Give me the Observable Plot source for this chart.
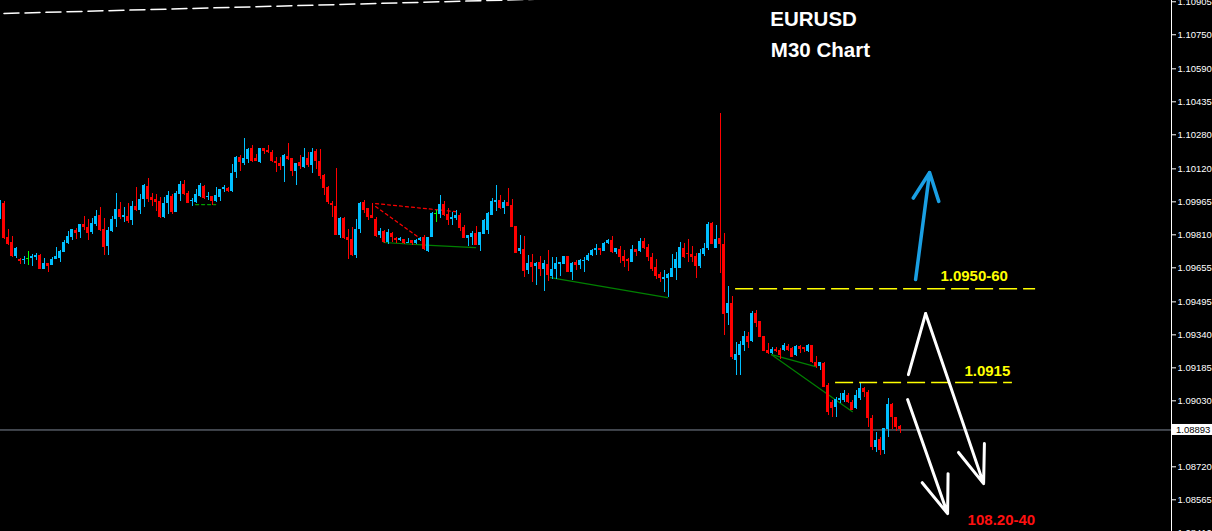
<!DOCTYPE html>
<html><head><meta charset="utf-8">
<script src="https://cdn.jsdelivr.net/npm/d3@7"></script>
<script src="https://cdn.jsdelivr.net/npm/@observablehq/plot@0.6"></script>
<style>html,body{margin:0;padding:0;background:#000;overflow:hidden}#chart svg{display:block}</style>
</head><body><div id="chart"></div>
<script>
const opens = [
1.09886,1.09957,1.09797,1.09774,1.09708,1.09694,1.09689,1.09698,1.09698,1.09703,
1.09713,1.09647,1.09675,1.09666,1.09694,1.09698,1.09727,1.09769,1.09797,1.09830,
1.09821,1.09858,1.09844,1.09821,1.09858,1.09901,1.09835,1.09755,1.09825,1.09882,
1.09929,1.09891,1.09896,1.09877,1.09943,1.09924,1.09976,1.10037,1.09985,1.09976,
1.09966,1.09891,1.09957,1.09990,1.09915,1.09999,1.10046,1.10004,1.09966,1.09962,
1.09990,1.10037,1.09985,1.09990,1.09966,1.09985,1.10023,1.10027,1.10013,1.10103,
1.10173,1.10145,1.10164,1.10215,1.10168,1.10150,1.10215,1.10206,1.10197,1.10154,
1.10145,1.10131,1.10178,1.10168,1.10107,1.10150,1.10126,1.10168,1.10136,1.10201,
1.10154,1.10089,1.10032,1.09957,1.09943,1.09807,1.09886,1.09797,1.09788,1.09713,
1.09835,1.09962,1.09933,1.09901,1.09882,1.09807,1.09825,1.09774,1.09816,1.09792,
1.09783,1.09788,1.09769,1.09783,1.09769,1.09783,1.09797,1.09731,1.09797,1.09910,
1.09905,1.09952,1.09905,1.09882,1.09886,1.09901,1.09844,1.09792,1.09797,1.09816,
1.09760,1.09811,1.09830,1.09901,1.09962,1.09971,1.09933,1.09962,1.09948,1.09849,
1.09731,1.09741,1.09642,1.09680,1.09661,1.09680,1.09647,1.09670,1.09614,1.09647,
1.09670,1.09670,1.09708,1.09633,1.09680,1.09666,1.09684,1.09689,1.09713,1.09736,
1.09745,1.09731,1.09769,1.09783,1.09727,1.09741,1.09708,1.09694,1.09680,1.09741,
1.09731,1.09778,1.09750,1.09703,1.09656,1.09623,1.09600,1.09604,1.09609,1.09651,
1.09651,1.09745,1.09722,1.09717,1.09708,1.09661,1.09717,1.09745,1.09863,1.09745,
1.09792,1.09764,1.09440,1.09487,1.09219,1.09243,1.09290,1.09332,1.09308,1.09440,
1.09402,1.09332,1.09266,1.09252,1.09271,1.09266,1.09266,1.09285,1.09275,1.09243,
1.09285,1.09280,1.09261,1.09290,1.09210,1.09191,1.09205,1.09102,1.09022,1.08998,
1.09031,1.09031,1.09055,1.09022,1.08993,1.09040,1.09087,1.09069,1.08946,1.08810,
1.08848,1.08796,1.08895,1.09012,1.08951,1.08909];
const highs = [
1.09971,1.09966,1.09835,1.09802,1.09750,1.09698,1.09708,1.09731,1.09717,1.09722,
1.09717,1.09698,1.09675,1.09703,1.09750,1.09736,1.09783,1.09825,1.09835,1.09839,
1.09858,1.09896,1.09882,1.09886,1.09924,1.09938,1.09886,1.09844,1.09896,1.10004,
1.09962,1.09938,1.09957,1.09966,1.10032,1.09999,1.10046,1.10074,1.10004,1.09999,
1.09985,1.09985,1.10013,1.09999,1.10013,1.10060,1.10065,1.10013,1.09980,1.10023,
1.10051,1.10042,1.10009,1.09990,1.10032,1.10023,1.10042,1.10032,1.10140,1.10178,
1.10183,1.10262,1.10215,1.10230,1.10187,1.10215,1.10215,1.10230,1.10206,1.10173,
1.10173,1.10187,1.10239,1.10168,1.10145,1.10183,1.10215,1.10197,1.10215,1.10211,
1.10211,1.10093,1.10037,1.09966,1.10121,1.09891,1.09891,1.09835,1.09844,1.09882,
1.09962,1.09971,1.09933,1.09957,1.09891,1.09839,1.09830,1.09835,1.09821,1.09797,
1.09797,1.09788,1.09792,1.09783,1.09788,1.09797,1.09807,1.09797,1.09915,1.09924,
1.09995,1.09966,1.09933,1.09915,1.09924,1.09910,1.09854,1.09807,1.09825,1.09849,
1.09821,1.09882,1.09915,1.09980,1.10042,1.09995,1.09971,1.10027,1.09976,1.09849,
1.09807,1.09802,1.09713,1.09717,1.09680,1.09708,1.09689,1.09736,1.09703,1.09703,
1.09680,1.09708,1.09708,1.09680,1.09689,1.09694,1.09703,1.09722,1.09741,1.09764,
1.09745,1.09774,1.09788,1.09802,1.09745,1.09755,1.09736,1.09698,1.09760,1.09741,
1.09792,1.09792,1.09764,1.09722,1.09694,1.09633,1.09642,1.09628,1.09717,1.09727,
1.09774,1.09769,1.09788,1.09755,1.09722,1.09741,1.09769,1.09868,1.09868,1.09854,
1.10380,1.09816,1.09567,1.09520,1.09304,1.09308,1.09355,1.09351,1.09449,1.09454,
1.09402,1.09332,1.09299,1.09280,1.09280,1.09275,1.09299,1.09294,1.09280,1.09290,
1.09290,1.09280,1.09294,1.09290,1.09238,1.09210,1.09210,1.09111,1.09031,1.09045,
1.09064,1.09078,1.09064,1.09031,1.09078,1.09116,1.09092,1.09078,1.08961,1.08881,
1.08857,1.08899,1.09040,1.09017,1.08951,1.08914];
const lows = [
1.09882,1.09788,1.09760,1.09703,1.09698,1.09670,1.09670,1.09666,1.09661,1.09689,
1.09647,1.09647,1.09633,1.09666,1.09694,1.09680,1.09727,1.09764,1.09783,1.09788,
1.09792,1.09830,1.09783,1.09811,1.09849,1.09825,1.09713,1.09713,1.09821,1.09844,
1.09882,1.09868,1.09863,1.09854,1.09919,1.09905,1.09938,1.09962,1.09943,1.09919,
1.09886,1.09886,1.09905,1.09905,1.09915,1.09966,1.09995,1.09957,1.09943,1.09957,
1.09985,1.09976,1.09971,1.09948,1.09962,1.09966,1.10009,1.10009,1.10009,1.10074,
1.10107,1.10136,1.10145,1.10150,1.10154,1.10145,1.10187,1.10192,1.10150,1.10103,
1.10112,1.10056,1.10159,1.10084,1.10042,1.10117,1.10121,1.10126,1.10098,1.10117,
1.10070,1.09995,1.09952,1.09891,1.09807,1.09792,1.09788,1.09694,1.09708,1.09698,
1.09816,1.09910,1.09877,1.09886,1.09797,1.09792,1.09769,1.09764,1.09774,1.09769,
1.09778,1.09764,1.09769,1.09760,1.09764,1.09778,1.09736,1.09727,1.09797,1.09868,
1.09886,1.09896,1.09854,1.09854,1.09877,1.09825,1.09792,1.09755,1.09760,1.09760,
1.09731,1.09811,1.09811,1.09901,1.09919,1.09929,1.09905,1.09943,1.09844,1.09722,
1.09717,1.09609,1.09623,1.09586,1.09572,1.09614,1.09543,1.09590,1.09600,1.09600,
1.09614,1.09670,1.09633,1.09595,1.09642,1.09647,1.09633,1.09684,1.09708,1.09713,
1.09713,1.09731,1.09764,1.09722,1.09717,1.09675,1.09656,1.09637,1.09680,1.09708,
1.09727,1.09741,1.09684,1.09637,1.09600,1.09586,1.09539,1.09515,1.09609,1.09595,
1.09651,1.09698,1.09680,1.09680,1.09604,1.09651,1.09708,1.09736,1.09764,1.09745,
1.09628,1.09336,1.09383,1.09224,1.09149,1.09149,1.09261,1.09275,1.09304,1.09374,
1.09327,1.09261,1.09247,1.09247,1.09257,1.09224,1.09261,1.09261,1.09233,1.09238,
1.09252,1.09257,1.09257,1.09205,1.09181,1.09172,1.09092,1.08961,1.08951,1.08951,
1.09017,1.09022,1.09017,1.08984,1.08989,1.09031,1.09045,1.08904,1.08796,1.08787,
1.08773,1.08777,1.08857,1.08895,1.08885,1.08876];
const closes = [
1.09952,1.09792,1.09764,1.09708,1.09745,1.09684,1.09694,1.09698,1.09708,1.09713,
1.09647,1.09675,1.09661,1.09694,1.09708,1.09731,1.09774,1.09802,1.09835,1.09816,
1.09858,1.09844,1.09816,1.09863,1.09896,1.09830,1.09750,1.09830,1.09882,1.09929,
1.09891,1.09901,1.09872,1.09943,1.09924,1.09976,1.10042,1.09976,1.09971,1.09962,
1.09891,1.09957,1.09995,1.09915,1.10004,1.10046,1.09999,1.09957,1.09971,1.09999,
1.10042,1.09980,1.09990,1.09966,1.09995,1.10023,1.10032,1.10013,1.10098,1.10173,
1.10150,1.10168,1.10211,1.10154,1.10154,1.10215,1.10201,1.10197,1.10154,1.10145,
1.10131,1.10183,1.10164,1.10107,1.10145,1.10131,1.10173,1.10136,1.10197,1.10154,
1.10084,1.10027,1.09962,1.09948,1.09807,1.09886,1.09792,1.09783,1.09713,1.09835,
1.09957,1.09924,1.09891,1.09886,1.09802,1.09825,1.09774,1.09821,1.09797,1.09783,
1.09792,1.09769,1.09774,1.09769,1.09783,1.09792,1.09741,1.09797,1.09910,1.09910,
1.09952,1.09901,1.09877,1.09891,1.09901,1.09839,1.09792,1.09807,1.09816,1.09760,
1.09821,1.09877,1.09910,1.09966,1.09971,1.09933,1.09962,1.09943,1.09844,1.09722,
1.09745,1.09637,1.09675,1.09656,1.09675,1.09647,1.09675,1.09619,1.09647,1.09675,
1.09680,1.09708,1.09633,1.09675,1.09666,1.09689,1.09689,1.09713,1.09736,1.09745,
1.09736,1.09769,1.09783,1.09727,1.09745,1.09703,1.09684,1.09684,1.09741,1.09727,
1.09778,1.09745,1.09703,1.09647,1.09614,1.09604,1.09609,1.09623,1.09651,1.09694,
1.09750,1.09703,1.09717,1.09703,1.09661,1.09722,1.09745,1.09858,1.09764,1.09788,
1.09764,1.09435,1.09487,1.09233,1.09247,1.09294,1.09332,1.09304,1.09440,1.09393,
1.09327,1.09261,1.09252,1.09271,1.09261,1.09243,1.09290,1.09266,1.09233,1.09285,
1.09271,1.09271,1.09290,1.09210,1.09191,1.09210,1.09092,1.08975,1.08993,1.09036,
1.09040,1.09064,1.09022,1.08984,1.09055,1.09087,1.09069,1.08946,1.08810,1.08843,
1.08796,1.08899,1.09012,1.08951,1.08904,1.08893];

const yTicks = [1.10905,1.10750,1.10590,1.10435,1.10280,1.10120,1.09965,1.09810,1.09655,1.09495,1.09340,1.09185,1.09030,1.08720,1.08565,1.08410];
const lastPrice = 1.08893;
const title1 = "EURUSD";
const title2 = "M30 Chart";

// trend lines (bar index, price)
const topDashed = [{i:1,p:1.10850},{i:140,p:1.10920}];
const redDashed = [
  {k:1,i:93.9,p:1.09957},{k:1,i:113.9,p:1.09919},
  {k:2,i:93.9,p:1.09943},{k:2,i:105.1,p:1.09792}];
const greenSolid = [
  {k:1,i:95.9,p:1.09774},{k:1,i:107.6,p:1.09760},{k:1,i:118.9,p:1.09750},
  {k:2,i:137.6,p:1.09609},{k:2,i:166.9,p:1.09515},
  {k:3,i:192.9,p:1.09247},{k:3,i:203.9,p:1.09191},
  {k:4,i:192.9,p:1.09247},{k:4,i:213.1,p:1.08979}];
const greenDashed = [{i:48.9,p:1.09952},{i:53.9,p:1.09952}];
const levels = [
  {p:1.09557,i1:183.9,i2:258.9,label:"1.0950-60",li:235.1,lp:1.09614},
  {p:1.09116,i1:208.9,i2:253.1,label:"1.0915",li:241.1,lp:1.09167}];
const targetLabel = {label:"108.20-40", li:241.9, lp:1.08467};
const blueArrow = {i1:228.9,p1:1.09600,i2:232.4,p2:1.10103};
const whiteZig = [{i:227.1,p:1.09153},{i:231.4,p:1.09440}];
const whiteArrows = [
  {i1:231.4,p1:1.09440,i2:245.9,p2:1.08641},
  {i1:226.9,p1:1.09036,i2:236.9,p2:1.08500}];
const titles = [
  {t:title1,i:203.4,p:1.10820},
  {t:title2,i:205.1,p:1.10676}];

const candles = opens.map((o,i)=>({i,o,h:highs[i],l:lows[i],c:closes[i]}));
const col = d => d.c > d.o ? "#00bfff" : d.c < d.o ? "#ff0000" : "#00ff00";
const FONT = "'Liberation Sans', Arial, sans-serif";

const chart = Plot.plot({
  width: 1212, height: 531,
  marginLeft: 0, marginRight: 41, marginTop: 0, marginBottom: 0,
  style: {background: "#000", color: "#fff", fontFamily: FONT, overflow: "hidden"},
  x: {domain: [0.125, 292.875], axis: null},
  y: {domain: [1.08416, 1.10911], axis: null},
  color: {type: "identity"},
  marks: [
    Plot.ruleY([lastPrice], {stroke: "#7d8795", strokeWidth: 1}),
    Plot.line(topDashed, {x:"i", y:"p", stroke:"#fff", strokeWidth:1.5, strokeDasharray:"15,6"}),
    Plot.line(redDashed, {x:"i", y:"p", z:"k", stroke:"#ff0000", strokeWidth:1.2, strokeDasharray:"3,3"}),
    Plot.line(greenSolid, {x:"i", y:"p", z:"k", stroke:"#008000", strokeWidth:1.2}),
    Plot.line(greenDashed, {x:"i", y:"p", stroke:"#00a000", strokeWidth:1.2, strokeDasharray:"3,3"}),
    Plot.ruleX(candles, {x:"i", y1:"l", y2:"h", stroke: col, shapeRendering:"crispEdges"}),
    Plot.rect(candles, {x1: d=>d.i-0.375, x2: d=>d.i+0.375, y1:"o", y2:"c", fill: col, shapeRendering:"crispEdges"}),
    Plot.ruleY(candles.filter(d=>d.o===d.c), {y:"o", x1: d=>d.i-0.375, x2: d=>d.i+0.375, stroke: col, shapeRendering:"crispEdges"}),
    Plot.ruleY(levels, {y:"p", x1:"i1", x2:"i2", stroke:"#ffff00", strokeWidth:1.5, strokeDasharray:"18,6"}),
    Plot.text(levels, {x:"li", y:"lp", text:"label", fill:"#ffff00", fontWeight:"bold", fontSize:15, textAnchor:"start", fontFamily: FONT}),
    Plot.text([targetLabel], {x:"li", y:"lp", text:"label", fill:"#ff1010", fontWeight:"bold", fontSize:15, textAnchor:"start", fontFamily: FONT}),
    Plot.arrow([blueArrow], {x1:"i1", y1:"p1", x2:"i2", y2:"p2", stroke:"#1a9fe3", strokeWidth:3.5, headLength:13, headAngle:50}),
    Plot.line(whiteZig, {x:"i", y:"p", stroke:"#fff", strokeWidth:3}),
    Plot.arrow(whiteArrows, {x1:"i1", y1:"p1", x2:"i2", y2:"p2", stroke:"#fff", strokeWidth:3, headLength:20, headAngle:40}),
    Plot.text(titles, {x:"i", y:"p", text:"t", fill:"#fff", fontWeight:"bold", fontSize:20.5, fontFamily: FONT}),
    Plot.ruleX([292.875], {stroke:"#fff"}),
    Plot.axisY({anchor:"right", ticks: yTicks, tickFormat: d => d.toFixed(5), tickSize:4, tickPadding:2, fontSize:9.5, color:"#fff", stroke:"#fff", fill:"#fff", fontFamily: FONT})
  ]
});

// current price box on the axis
const ys = chart.scale("y");
const py = ys.apply(lastPrice);
const svg = d3.select(chart);
svg.append("rect").attr("x", 1172).attr("y", py - 5.5).attr("width", 40).attr("height", 11).attr("fill", "#fff");
svg.append("text").attr("x", 1176).attr("y", py).attr("dy", "0.35em").attr("fill", "#000")
  .attr("text-anchor", "start").attr("font-size", 9.5).attr("font-family", FONT).text(lastPrice.toFixed(5));

document.getElementById("chart").appendChild(chart);
</script>
</body></html>
